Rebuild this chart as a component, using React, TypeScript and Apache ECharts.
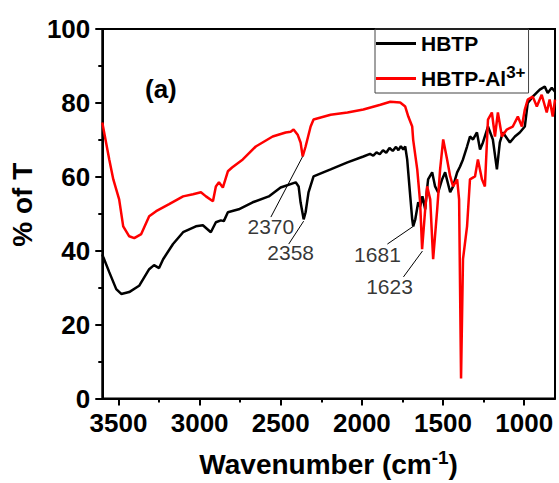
import React, { useEffect, useRef } from 'react';
import * as echarts from 'echarts';

const FONT = '"Liberation Sans", Arial, sans-serif';

const xMajorTicks = [3500, 3000, 2500, 2000, 1500, 1000];
const xMinorTicks = [3250, 2750, 2250, 1750, 1250];

// HBTP (black)
const hbtp: [number, number][] = [
  [3600, 39], [3594, 38.3], [3557, 34.2], [3514, 29.6], [3483, 28.3], [3434, 28.8],
  [3373, 30.5], [3311, 35], [3281, 36.1], [3250, 35.3], [3225, 37.7], [3164, 41.8],
  [3102, 45], [3023, 46.6], [2980, 46.9], [2931, 45], [2900, 47.7], [2869, 48.2],
  [2851, 48], [2826, 50.4], [2759, 51.2], [2673, 53.1], [2574, 54.7], [2501, 57.1],
  [2408, 58.5], [2390, 57.4], [2378, 53.1], [2359, 48.5], [2347, 50.4], [2329, 55.8],
  [2298, 60.1], [2193, 62], [2089, 63.9], [1991, 65.5], [1950, 66.2], [1930, 65.7],
  [1910, 66.6], [1890, 66.1], [1870, 67.2], [1850, 66.5], [1830, 67.8], [1810, 67.0],
  [1790, 68.1], [1775, 67.2], [1760, 68.3], [1745, 67.4], [1733, 68.2], [1721, 64.7],
  [1702, 54.7], [1690, 48.5], [1684, 46.6], [1671, 48.5], [1653, 53.1], [1641, 52],
  [1627, 54.7], [1610, 51.2], [1600, 56], [1592, 59.3], [1567, 61.2], [1549, 57.4],
  [1530, 55.8], [1506, 59.3], [1487, 61.2], [1456, 55.8], [1438, 57.4], [1413, 61.2],
  [1395, 62.8], [1377, 64.7], [1352, 68.2], [1334, 70.9], [1315, 70.1], [1291, 72],
  [1272, 67.4], [1254, 69.3], [1223, 73.6], [1193, 70.1], [1168, 62], [1150, 69.3],
  [1131, 72], [1088, 69.3], [1057, 70.9], [1027, 72], [996, 73.6], [978, 80],
  [947, 81.7], [904, 83.6], [873, 84.4], [855, 82.7], [830, 84.1], [810, 83],
];

// HBTP-Al3+ (red)
const hbtpAl: [number, number][] = [
  [3600, 74.7], [3557, 64.7], [3532, 59.3], [3496, 53.9], [3471, 46.6], [3434, 43.9],
  [3403, 43.4], [3360, 44.5], [3311, 49.3], [3268, 50.7], [3188, 52.6], [3102, 54.7],
  [3041, 55.3], [2992, 55.8], [2961, 54.7], [2918, 53.4], [2900, 57.4], [2881, 58.5],
  [2857, 57.1], [2826, 61.5], [2800, 62.5], [2734, 64.7], [2654, 68.2], [2550, 70.9],
  [2470, 72], [2439, 72.2], [2421, 72.8], [2396, 71.4], [2378, 69.3], [2365, 65.5],
  [2347, 68.2], [2316, 73.6], [2298, 75.5], [2193, 76.8], [2089, 77.4], [1991, 78.2],
  [1886, 79.5], [1825, 80.3], [1764, 80.1], [1733, 79], [1714, 76.3], [1690, 73.6],
  [1684, 70], [1659, 62], [1641, 53], [1629, 40.4], [1610, 51.2], [1598, 57.4],
  [1579, 53.9], [1561, 37.7], [1536, 51.2], [1518, 62], [1499, 70.1], [1475, 64.7],
  [1456, 60.1], [1438, 57.4], [1413, 59.3], [1401, 53.9], [1389, 5.4], [1377, 37.7],
  [1352, 46.6], [1334, 59.3], [1303, 60.1], [1285, 64.7], [1260, 59.3], [1242, 57.4],
  [1223, 75.5], [1199, 77.4], [1180, 70.9], [1162, 77.4], [1137, 70.9], [1107, 72.8],
  [1070, 73.6], [1039, 76.3], [1014, 73.6], [996, 78.2], [978, 80.9], [947, 81.7],
  [922, 79], [892, 82.2], [861, 77.4], [843, 80.9], [824, 76.3], [810, 80.9],
];

// peak labels: [x, y, text]
const peakLabels: [number, number, string][] = [
  [2561, 46.6, '2370'],
  [2439, 39.4, '2358'],
  [1904, 39.1, '1681'],
  [1830, 30.2, '1623'],
];

// leader lines: [x1, y1, x2, y2]
const leaders: [number, number, number, number][] = [
  [2561, 49.1, 2365, 65.5],
  [2451, 41.8, 2359, 48],
  [1843, 41.8, 1683, 46.6],
  [1744, 32.9, 1627, 39.9],
];

export default function App() {
  const ref = useRef<HTMLDivElement>(null);
  useEffect(() => {
    if (!ref.current) return;
    const chart = echarts.init(ref.current, undefined, { renderer: 'svg' });
    const axisLabelStyle = { color: '#000', fontSize: 26, fontWeight: 'bold' as const, fontFamily: FONT };
    chart.setOption({
      animation: false,
      backgroundColor: '#fff',
      grid: {
        left: 101, right: 4, top: 29, bottom: 83,
        show: true, borderColor: '#000', borderWidth: 2, backgroundColor: 'transparent',
      },
      legend: {
        data: ['HBTP', 'HBTP-Al3+'],
        left: 375, top: 29,
        orient: 'vertical',
        icon: 'rect',
        itemWidth: 40, itemHeight: 3,
        itemGap: 10,
        padding: [4, 3, 4, 1],
        borderColor: '#444', borderWidth: 1,
        formatter: (name: string) => name === 'HBTP-Al3+' ? '{t|HBTP-Al}{s|3+}' : '{t|HBTP}',
        textStyle: {
          rich: {
            t: { fontSize: 21, fontWeight: 'bold', fontFamily: FONT, color: '#000' },
            s: { fontSize: 17, fontWeight: 'bold', fontFamily: FONT, color: '#000', padding: [0, 0, 12, 0] },
          },
        },
      },
      xAxis: [
        {
          type: 'value', min: 810, max: 3600, inverse: true,
          axisLine: { show: true, lineStyle: { color: '#000', width: 2 } },
          axisTick: { show: true, length: 7, lineStyle: { color: '#000', width: 2 }, customValues: xMajorTicks },
          axisLabel: { ...axisLabelStyle, margin: 11, customValues: xMajorTicks, formatter: (v: number) => String(v) },
          splitLine: { show: false },
          name: '{a|Wavenumber (cm}{b|-1}{a|)}',
          nameLocation: 'middle',
          nameGap: 49,
          nameTextStyle: {
            rich: {
              a: { fontSize: 28, fontWeight: 'bold', fontFamily: FONT, color: '#000' },
              b: { fontSize: 19, fontWeight: 'bold', fontFamily: FONT, color: '#000', padding: [0, 0, 14, 0] },
            },
          },
        },
        {
          type: 'value', min: 810, max: 3600, inverse: true, position: 'bottom',
          axisLine: { show: false },
          axisTick: { show: true, length: 4, lineStyle: { color: '#000', width: 2 }, customValues: xMinorTicks },
          axisLabel: { show: false },
          splitLine: { show: false },
        },
      ],
      yAxis: {
        type: 'value', min: 0, max: 100, interval: 20,
        axisLine: { show: true, lineStyle: { color: '#000', width: 2 } },
        axisTick: { show: true, length: 7, lineStyle: { color: '#000', width: 2 } },
        minorTick: { show: true, splitNumber: 2, length: 4, lineStyle: { color: '#000', width: 2 } },
        axisLabel: { ...axisLabelStyle, margin: 12, formatter: (v: number) => String(v) },
        splitLine: { show: false },
        name: '% of T',
        nameLocation: 'middle',
        nameRotate: 90,
        nameGap: 64,
        nameTextStyle: { fontSize: 28, fontWeight: 'bold', fontFamily: FONT, color: '#000', padding: [0, 0, 0, 18] },
      },
      graphic: [
        {
          type: 'text', left: 145, top: 76,
          style: { text: '(a)', fontSize: 26, fontWeight: 'bold', fontFamily: FONT, fill: '#000' },
        },
      ],
      series: [
        {
          name: 'HBTP', type: 'line', data: hbtp, showSymbol: false, symbol: 'none',
          lineStyle: { color: '#000', width: 2.5 }, itemStyle: { color: '#000' },
        },
        {
          name: 'HBTP-Al3+', type: 'line', data: hbtpAl, showSymbol: false, symbol: 'none',
          lineStyle: { color: '#ff0000', width: 2.5 }, itemStyle: { color: '#ff0000' },
        },
        {
          name: 'peaks', type: 'scatter', data: peakLabels, symbolSize: 1,
          itemStyle: { color: 'rgba(0,0,0,0)' },
          label: {
            show: true, position: 'inside',
            formatter: (p: any) => p.value[2],
            fontSize: 21, fontFamily: FONT, color: '#000',
          },
          markLine: {
            silent: true, symbol: ['none', 'none'],
            label: { show: false },
            lineStyle: { color: '#000', width: 1, type: 'solid' },
            data: leaders.map(([x1, y1, x2, y2]) => [{ coord: [x1, y1] }, { coord: [x2, y2] }]),
          },
        },
      ],
    });
    return () => chart.dispose();
  }, []);
  return <div ref={ref} style={{ position: 'fixed', left: 0, top: 0, width: 559, height: 483 }} />;
}
